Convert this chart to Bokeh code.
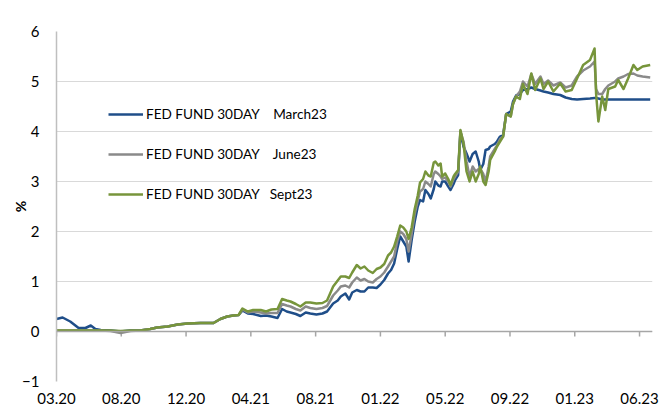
from bokeh.plotting import figure
from bokeh.models import Range1d, FixedTicker, Legend, LegendItem, Span
from bokeh.embed import file_html
from bokeh.resources import INLINE

# ---- data ----
tick_labels = ["03.20", "08.20", "12.20", "04.21", "08.21", "01.22", "05.22", "09.22", "01.23", "06.23"]
obs_per_tick = 85
tick_pos = [i * obs_per_tick for i in range(len(tick_labels))]
y_ticks = [-1, 0, 1, 2, 3, 4, 5, 6]

x_obs = [0, 8, 18, 29, 38, 45, 51, 58, 71, 84,
         97, 110, 123, 132, 146, 159, 172, 189, 206, 215,
         224, 232, 239, 244, 251, 258, 268, 275, 282, 290,
         296, 302, 307, 314, 320, 327, 333, 341, 349, 355,
         363, 369, 373, 379, 384, 388, 394, 399, 404, 409,
         415, 420, 425, 430, 435, 439, 443, 447, 451, 455,
         459, 462, 466, 470, 474, 477, 481, 484, 488, 491,
         495, 497, 501, 504, 506, 510, 514, 517, 521, 523,
         527, 530, 534, 538, 542, 546, 550, 554, 556, 560,
         563, 567, 569, 575, 578, 582, 586, 590, 596, 599,
         603, 608, 612, 618, 623, 628, 635, 639, 645, 652,
         661, 668, 676, 683, 691, 700, 706, 708, 711, 716,
         720, 724, 733, 737, 744, 750, 757, 762, 769, 779]

march23 = [0.25, 0.28, 0.20, 0.07, 0.07, 0.12, 0.05, 0.03, 0.02, 0.00,
           0.02, 0.02, 0.05, 0.08, 0.10, 0.14, 0.16, 0.17, 0.17, 0.25,
           0.30, 0.32, 0.33, 0.42, 0.36, 0.35, 0.31, 0.32, 0.30, 0.27,
           0.45, 0.40, 0.38, 0.35, 0.31, 0.38, 0.36, 0.34, 0.36, 0.40,
           0.56, 0.62, 0.70, 0.76, 0.64, 0.78, 0.83, 0.80, 0.80, 0.88,
           0.88, 0.87, 0.94, 1.03, 1.16, 1.23, 1.36, 1.65, 1.90, 1.80,
           1.70, 1.40, 1.83, 2.20, 2.50, 2.63, 2.60, 2.83, 2.75, 2.66,
           2.85, 3.00, 2.92, 2.90, 3.00, 3.00, 2.90, 2.83, 2.95, 3.03,
           3.13, 4.00, 3.70, 3.56, 3.40, 3.55, 3.60, 3.40, 3.23, 3.35,
           3.63, 3.65, 3.70, 3.75, 3.80, 3.90, 3.93, 4.35, 4.40, 4.60,
           4.72, 4.75, 4.83, 4.85, 4.88, 4.85, 4.82, 4.80, 4.78, 4.75,
           4.73, 4.68, 4.65, 4.64, 4.65, 4.66, 4.67, 4.67, 4.66, 4.64,
           4.64, 4.64, 4.64, 4.64, 4.64, 4.64, 4.64, 4.64, 4.64, 4.64]

june23 = [0.02, 0.02, 0.02, 0.02, 0.02, 0.02, 0.02, 0.02, 0.01, -0.03,
          0.01, 0.02, 0.05, 0.08, 0.10, 0.14, 0.16, 0.17, 0.17, 0.25,
          0.30, 0.32, 0.33, 0.44, 0.38, 0.40, 0.38, 0.36, 0.37, 0.37,
          0.55, 0.52, 0.50, 0.45, 0.42, 0.50, 0.47, 0.45, 0.47, 0.51,
          0.72, 0.82, 0.90, 0.92, 0.88, 0.98, 1.08, 1.02, 1.05, 1.00,
          0.98, 1.05, 1.10, 1.18, 1.30, 1.40, 1.50, 1.80, 2.00, 1.95,
          1.85, 1.60, 1.95, 2.35, 2.62, 2.80, 2.85, 3.00, 2.95, 2.90,
          3.15, 3.20, 3.15, 3.10, 3.05, 3.08, 3.00, 2.90, 3.05, 3.10,
          3.20, 4.00, 3.80, 3.40, 3.10, 3.30, 3.20, 3.25, 3.25, 3.15,
          3.00, 3.30, 3.50, 3.65, 3.72, 3.85, 3.90, 4.35, 4.30, 4.55,
          4.70, 4.80, 5.00, 4.90, 5.15, 4.95, 5.10, 4.95, 5.02, 4.92,
          4.98, 4.88, 4.92, 5.10, 5.22, 5.30, 5.40, 4.85, 4.75, 4.75,
          4.85, 4.92, 5.00, 5.06, 5.10, 5.15, 5.16, 5.12, 5.10, 5.08]

sept23 = [0.02, 0.02, 0.02, 0.02, 0.02, 0.02, 0.02, 0.02, 0.02, 0.01,
          0.02, 0.02, 0.05, 0.08, 0.10, 0.14, 0.16, 0.17, 0.17, 0.25,
          0.30, 0.32, 0.33, 0.46, 0.40, 0.43, 0.43, 0.40, 0.44, 0.45,
          0.65, 0.62, 0.60, 0.55, 0.50, 0.58, 0.58, 0.56, 0.57, 0.62,
          0.90, 1.02, 1.10, 1.10, 1.07, 1.18, 1.33, 1.26, 1.30, 1.22,
          1.17, 1.25, 1.28, 1.35, 1.52, 1.58, 1.70, 1.90, 2.12, 2.08,
          2.00, 1.85, 2.08, 2.45, 2.72, 2.98, 3.05, 3.20, 3.12, 3.10,
          3.38, 3.40, 3.32, 3.36, 3.10, 3.16, 3.05, 2.93, 3.10, 3.15,
          3.23, 4.03, 3.76, 3.20, 3.00, 3.20, 3.00, 3.15, 3.30, 3.00,
          2.93, 3.20, 3.43, 3.60, 3.70, 3.80, 3.90, 4.35, 4.30, 4.55,
          4.70, 4.65, 4.95, 4.75, 5.16, 4.83, 5.06, 4.85, 5.00, 4.80,
          4.96, 4.80, 4.83, 5.06, 5.33, 5.43, 5.66, 4.75, 4.20, 4.70,
          4.43, 4.85, 4.90, 5.03, 4.85, 5.06, 5.33, 5.23, 5.30, 5.33]

series_names = ["FED FUND 30DAY\u00a0\u00a0\u00a0\u00a0March23",
                "FED FUND 30DAY\u00a0\u00a0\u00a0\u00a0June23",
                "FED FUND 30DAY\u00a0\u00a0\u00a0Sept23"]
series_colors = ["#1F4E89", "#8A8A8A", "#77953B"]

assert len(x_obs) == len(march23) == len(june23) == len(sept23)

FONT = "Lato"
AXIS_GREY = "#A6A6A6"

p = figure(width=660, height=411, output_backend="svg", toolbar_location=None,
           x_range=Range1d(0, 782), y_range=Range1d(-1, 6),
           min_border_left=56, min_border_right=8, min_border_top=31, min_border_bottom=30)
p.outline_line_color = None
p.background_fill_color = "white"

# grid
p.xgrid.visible = False
p.ygrid.ticker = FixedTicker(ticks=y_ticks)
p.ygrid.grid_line_color = "#D9D9D9"
p.ygrid.grid_line_width = 1

# bottom axis: labels only
xa = p.xaxis[0]
xa.ticker = FixedTicker(ticks=tick_pos)
xa.major_label_overrides = {t: l for t, l in zip(tick_pos, tick_labels)}
xa.axis_line_color = None
xa.major_tick_line_color = None
xa.minor_tick_line_color = None
xa.major_tick_in = 0
xa.major_tick_out = 0
xa.minor_tick_in = 0
xa.minor_tick_out = 0
xa.major_label_standoff = 11
xa.major_label_text_font = FONT
xa.major_label_text_font_size = "15px"
xa.major_label_text_color = "black"

# zero line with downward tick marks at the category ticks
p.add_layout(Span(location=0, dimension="width", line_color=AXIS_GREY, line_width=1.5))
p.segment(x0=tick_pos, y0=[0] * len(tick_pos), x1=tick_pos, y1=[-0.1] * len(tick_pos),
          line_color=AXIS_GREY, line_width=1.5)

# y axis
ya = p.yaxis[0]
ya.ticker = FixedTicker(ticks=y_ticks)
ya.axis_line_color = "#BFBFBF"
ya.axis_line_width = 1.5
ya.major_tick_line_color = None
ya.minor_tick_line_color = None
ya.major_tick_in = 0
ya.major_tick_out = 0
ya.minor_tick_in = 0
ya.minor_tick_out = 0
ya.major_label_standoff = 17
ya.major_label_text_font = FONT
ya.major_label_text_font_size = "15px"
ya.major_label_text_color = "black"
ya.axis_label = "%"
ya.axis_label_text_font = FONT
ya.axis_label_text_font_size = "14px"
ya.axis_label_text_font_style = "bold"
ya.axis_label_text_color = "black"
ya.axis_label_standoff = -10

renderers = []
for ys, c in zip([march23, june23, sept23], series_colors):
    r = p.line(x_obs, ys, line_color=c, line_width=2.5, line_join="round")
    renderers.append(r)

legend = Legend(items=[LegendItem(label=n, renderers=[r]) for n, r in zip(series_names, renderers)],
                location=(52, 177))
legend.border_line_color = None
legend.background_fill_alpha = 0
legend.padding = 0
legend.margin = 0
legend.spacing = 20
legend.glyph_width = 35
legend.glyph_height = 20
legend.label_height = 20
legend.label_standoff = 3
legend.label_text_font = FONT
legend.label_text_font_size = "13.6px"
legend.label_text_color = "black"
p.add_layout(legend)

open("out.html", "w").write(file_html(p, INLINE))
